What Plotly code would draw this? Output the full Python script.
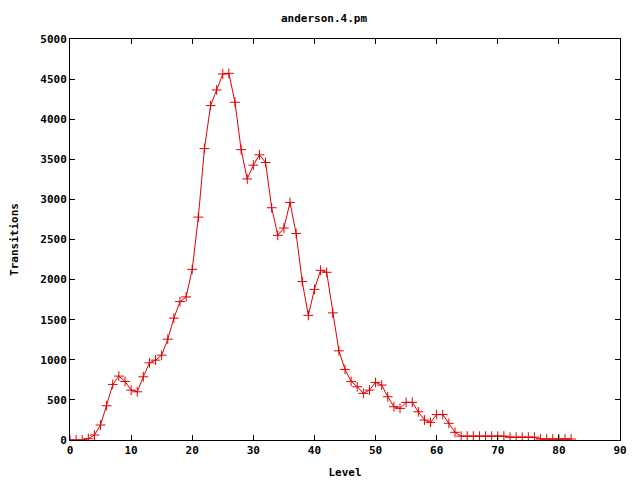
import plotly.graph_objects as go

levels = list(range(0, 83))
transitions = [
    0, 0, 0, 16, 62, 187, 427, 693, 797, 730,
    622, 601, 788, 962, 996, 1058, 1257, 1519, 1726, 1784,
    2128, 2779, 3634, 4170, 4365, 4564, 4572, 4211, 3620, 3255,
    3427, 3556, 3460, 2896, 2552, 2643, 2962, 2575, 1975, 1554,
    1878, 2116, 2091, 1585, 1112, 880, 731, 664, 581, 622,
    718, 685, 539, 415, 394, 469, 469, 352, 249, 220,
    317, 317, 208, 96, 48, 48, 48, 48, 48, 48,
    48, 48, 35, 35, 35, 35, 35, 12, 12, 12,
    12, 12, 12,
]

font = dict(family="DejaVu Sans Mono", size=11, color="black", weight="bold")

fig = go.Figure()
fig.add_trace(go.Scatter(
    x=levels, y=transitions, mode="lines+markers",
    line=dict(color="#e00000", width=1),
    marker=dict(symbol="cross-thin", size=7, line=dict(color="#e00000", width=1)),
))

axis_common = dict(
    showline=True, linecolor="black", linewidth=1, mirror="ticks",
    ticks="inside", ticklen=5, tickcolor="black", showgrid=False, zeroline=False,
    tickfont=font,
)
fig.update_layout(
    width=632, height=472,
    margin=dict(l=62, r=20, t=31, b=40, autoexpand=False),
    paper_bgcolor="white", plot_bgcolor="white",
    showlegend=False,
    title=dict(text="anderson.4.pm", x=0.5, xanchor="center", y=0.979, yanchor="middle", font=font),
    xaxis=dict(range=[0, 90], dtick=10, title=dict(text="Level", font=font, standoff=12), **axis_common),
    yaxis=dict(range=[0, 5000], dtick=500, title=dict(text="Transitions", font=font, standoff=20), **axis_common),
)
fig.write_html("out.html")
